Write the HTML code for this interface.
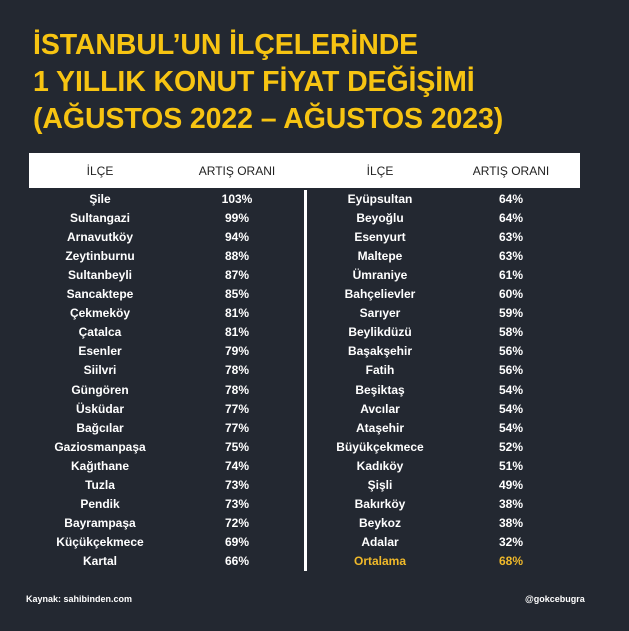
<!DOCTYPE html><html><head><meta charset="utf-8"><style>
body{margin:0;width:629px;height:631px;background:#232831;font-family:"Liberation Sans",sans-serif;position:relative;overflow:hidden;color:#fff}
.t{position:absolute;left:33px;color:#f7c412;font-weight:bold;font-size:28.5px;letter-spacing:-0.1px;line-height:37px;top:27px;white-space:nowrap}
.hdr{position:absolute;left:29px;top:153px;width:551px;height:35px;background:#fff}
.c{position:absolute;width:160px;text-align:center;font-weight:bold;font-size:12px;white-space:nowrap}
.h{color:#222;top:164px;font-size:12px;font-weight:normal}
.div{position:absolute;left:304px;top:190px;width:3px;height:381px;background:#fff}
.f{position:absolute;top:594px;font-size:9px;font-weight:bold}
</style></head><body>
<div class="t">İSTANBUL’UN İLÇELERİNDE<br>1 YILLIK KONUT FİYAT DEĞİŞİMİ<br>(AĞUSTOS 2022 – AĞUSTOS 2023)</div>
<div class="hdr"></div>
<div class="c h" style="left:20px">İLÇE</div>
<div class="c h" style="left:157px">ARTIŞ ORANI</div>
<div class="c h" style="left:300px">İLÇE</div>
<div class="c h" style="left:431px">ARTIŞ ORANI</div>
<div class="div"></div>
<div id="rows"></div>
<div class="f" style="left:26px">Kaynak: sahibinden.com</div>
<div class="f" style="left:525px">@gokcebugra</div>
<script>
var L=[["Şile","103%"],["Sultangazi","99%"],["Arnavutköy","94%"],["Zeytinburnu","88%"],["Sultanbeyli","87%"],["Sancaktepe","85%"],["Çekmeköy","81%"],["Çatalca","81%"],["Esenler","79%"],["Siilvri","78%"],["Güngören","78%"],["Üsküdar","77%"],["Bağcılar","77%"],["Gaziosmanpaşa","75%"],["Kağıthane","74%"],["Tuzla","73%"],["Pendik","73%"],["Bayrampaşa","72%"],["Küçükçekmece","69%"],["Kartal","66%"]];
var R=[["Eyüpsultan","64%"],["Beyoğlu","64%"],["Esenyurt","63%"],["Maltepe","63%"],["Ümraniye","61%"],["Bahçelievler","60%"],["Sarıyer","59%"],["Beylikdüzü","58%"],["Başakşehir","56%"],["Fatih","56%"],["Beşiktaş","54%"],["Avcılar","54%"],["Ataşehir","54%"],["Büyükçekmece","52%"],["Kadıköy","51%"],["Şişli","49%"],["Bakırköy","38%"],["Beykoz","38%"],["Adalar","32%"],["Ortalama","68%"]];
var h="";for(var i=0;i<20;i++){var y=192+i*19.05;var col=i==19?"color:#f0b92a;":"";
h+='<div class="c" style="left:20px;top:'+y+'px">'+L[i][0]+'</div><div class="c" style="left:157px;top:'+y+'px">'+L[i][1]+'</div>';
h+='<div class="c" style="left:300px;top:'+y+'px;'+col+'">'+R[i][0]+'</div><div class="c" style="left:431px;top:'+y+'px;'+col+'">'+R[i][1]+'</div>';}
document.getElementById("rows").innerHTML=h;
</script>
</body></html>
